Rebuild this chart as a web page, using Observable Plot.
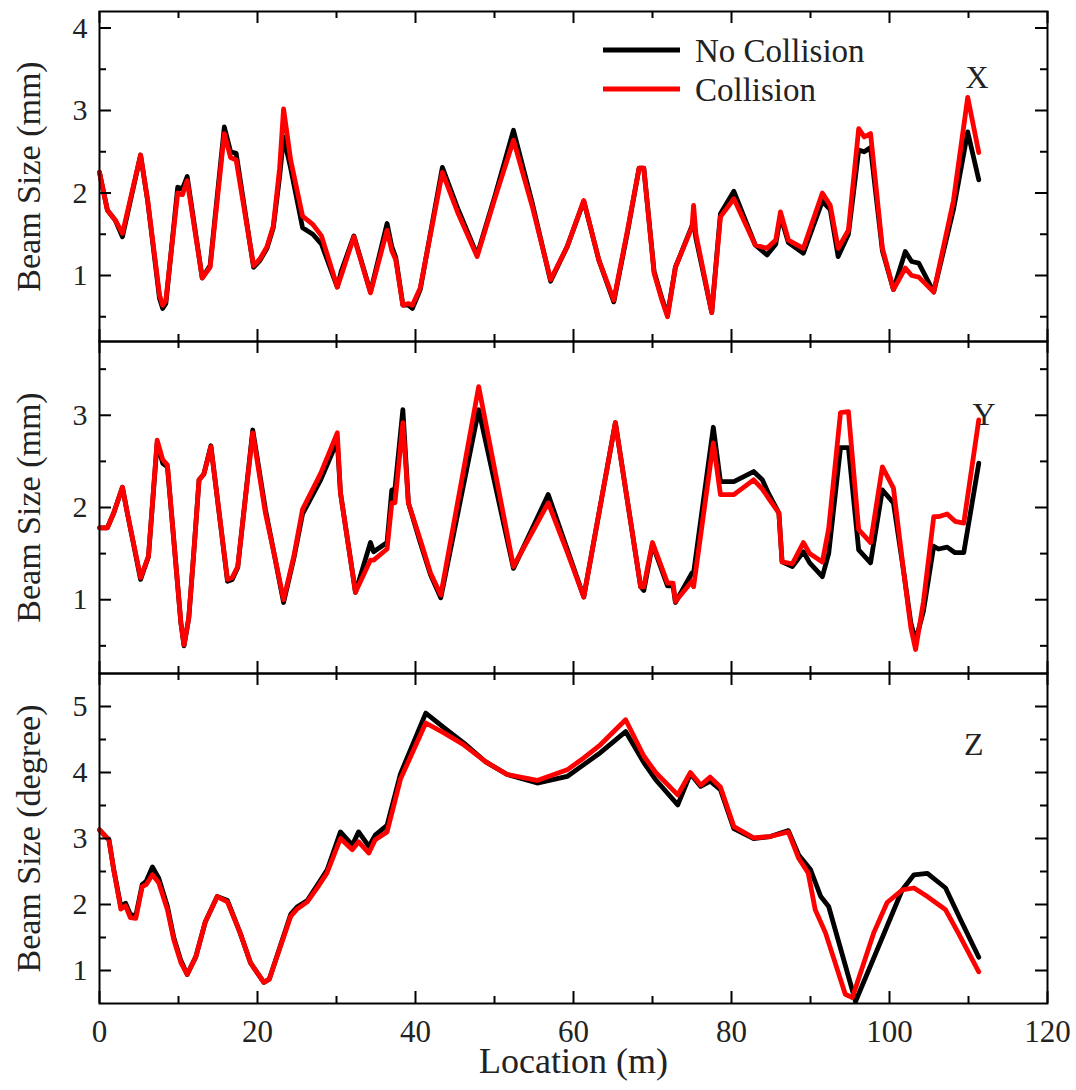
<!DOCTYPE html>
<html>
<head>
<meta charset="utf-8">
<script src="https://cdn.jsdelivr.net/npm/d3@7"></script>
<script src="https://cdn.jsdelivr.net/npm/@observablehq/plot@0.6"></script>
<style>
  body { margin: 0; background: #fff; }
  #chart { position: relative; width: 1076px; height: 1090px; font-family: "Liberation Serif", "Times New Roman", serif; }
  #chart > svg { position: absolute; left: 0; overflow: visible; }
</style>
</head>
<body>
<div id="chart"></div>
<script>
// ---------- Data ----------
const seriesNames = ["No Collision", "Collision"];
const seriesColors = ["#000000", "#ff0000"];
const xTickLabels = [0, 20, 40, 60, 80, 100, 120];

// Panel X (Beam Size, mm)
const locX = [0, 1.0, 2.0, 2.9, 5.2, 6.1, 7.6, 8.0, 8.4, 9.9, 10.5, 11.1, 13.0, 14.0, 15.8, 16.6, 17.3, 19.5, 20.3, 21.2, 22.0, 22.8, 23.3, 24.2, 25.7, 27.0, 28.1, 30.1, 30.6, 32.2, 34.3, 36.4, 37.0, 37.5, 38.4, 39.1, 39.6, 40.6, 43.4, 45.4, 47.8, 50.1, 52.4, 54.8, 57.1, 59.2, 61.3, 63.2, 65.1, 66.8, 68.3, 68.9, 70.2, 71.2, 71.9, 72.9, 75.0, 75.2, 75.5, 77.5, 78.6, 80.3, 83.0, 84.5, 85.6, 86.2, 87.2, 89.1, 91.5, 92.5, 93.5, 94.8, 96.1, 96.8, 97.6, 99.1, 100.5, 102.0, 102.8, 103.7, 105.6, 108.1, 109.9, 111.3];
const xNoCollision = [2.25, 1.79, 1.67, 1.47, 2.46, 1.9, 0.72, 0.6, 0.66, 2.07, 2.05, 2.2, 0.97, 1.12, 2.8, 2.5, 2.48, 1.1, 1.18, 1.33, 1.58, 2.2, 2.68, 2.3, 1.58, 1.5, 1.38, 0.86, 1.05, 1.48, 0.8, 1.63, 1.35, 1.22, 0.64, 0.64, 0.6, 0.83, 2.31, 1.8, 1.25, 1.98, 2.76, 1.87, 0.93, 1.35, 1.9, 1.19, 0.68, 1.51, 2.3, 2.3, 1.05, 0.72, 0.52, 1.1, 1.6, 1.65, 1.45, 0.55, 1.75, 2.02, 1.37, 1.25, 1.38, 1.72, 1.4, 1.27, 1.9, 1.8, 1.23, 1.5, 2.52, 2.5, 2.55, 1.3, 0.83, 1.29, 1.17, 1.15, 0.8, 1.8, 2.74, 2.16];
const xCollision   = [2.25, 1.79, 1.67, 1.51, 2.46, 1.91, 0.76, 0.64, 0.7, 2.0, 1.98, 2.15, 0.97, 1.1, 2.72, 2.43, 2.4, 1.12, 1.2, 1.35, 1.6, 2.3, 3.02, 2.4, 1.72, 1.62, 1.48, 0.86, 1.0, 1.47, 0.79, 1.55, 1.3, 1.19, 0.64, 0.66, 0.64, 0.85, 2.25, 1.75, 1.23, 1.95, 2.64, 1.83, 0.95, 1.35, 1.91, 1.19, 0.7, 1.53, 2.3, 2.3, 1.03, 0.7, 0.5, 1.1, 1.59, 1.85, 1.5, 0.55, 1.71, 1.93, 1.37, 1.33, 1.43, 1.77, 1.43, 1.33, 2.0, 1.85, 1.33, 1.55, 2.78, 2.68, 2.72, 1.33, 0.83, 1.09, 1.0, 0.98, 0.8, 1.91, 3.16, 2.49];

// Panel Y (Beam Size, mm)
const locY = [0, 1.0, 1.8, 2.9, 3.5, 5.2, 6.2, 7.3, 8.0, 8.6, 9.4, 10.3, 10.7, 11.3, 11.9, 12.6, 13.2, 14.1, 16.2, 16.8, 17.5, 19.4, 21.0, 22.1, 23.3, 24.6, 25.7, 28.0, 30.1, 30.5, 32.4, 34.3, 34.7, 36.4, 37.0, 37.4, 38.4, 39.1, 40.6, 41.9, 43.2, 48.0, 52.4, 56.8, 59.2, 61.3, 65.3, 68.5, 68.9, 70.0, 71.9, 72.6, 72.9, 75.0, 75.2, 77.7, 78.6, 80.3, 82.8, 83.9, 84.7, 86.0, 86.4, 87.7, 89.1, 89.9, 91.5, 92.3, 93.8, 94.8, 96.1, 97.6, 99.1, 100.5, 101.8, 102.7, 103.3, 104.3, 105.6, 106.2, 107.3, 108.3, 109.4, 111.3];
const yNoCollision = [1.78, 1.78, 1.94, 2.22, 1.95, 1.22, 1.47, 2.7, 2.48, 2.44, 1.65, 0.75, 0.5, 0.8, 1.47, 2.3, 2.36, 2.67, 1.2, 1.22, 1.35, 2.84, 1.98, 1.5, 0.97, 1.45, 1.93, 2.3, 2.72, 2.16, 1.08, 1.62, 1.52, 1.62, 2.19, 2.2, 3.06, 2.05, 1.62, 1.27, 1.02, 3.06, 1.34, 2.14, 1.55, 1.03, 2.92, 1.14, 1.1, 1.6, 1.15, 1.15, 0.97, 1.29, 1.29, 2.87, 2.28, 2.28, 2.39, 2.3, 2.15, 1.94, 1.41, 1.36, 1.52, 1.4, 1.25, 1.5, 2.65, 2.65, 1.54, 1.4, 2.19, 2.05, 1.3, 0.75, 0.55, 0.88, 1.58, 1.55, 1.57, 1.51, 1.51, 2.48];
const yCollision   = [1.78, 1.78, 1.94, 2.22, 1.95, 1.24, 1.47, 2.73, 2.52, 2.46, 1.65, 0.75, 0.51, 0.8, 1.47, 2.3, 2.36, 2.66, 1.22, 1.24, 1.36, 2.81, 1.94, 1.5, 1.0, 1.47, 1.98, 2.37, 2.81, 2.16, 1.08, 1.43, 1.43, 1.55, 2.05, 2.05, 2.92, 2.05, 1.65, 1.29, 1.05, 3.31, 1.36, 2.05, 1.52, 1.03, 2.92, 1.14, 1.14, 1.62, 1.18, 1.18, 0.98, 1.2, 1.14, 2.7, 2.14, 2.14, 2.3, 2.2, 2.1, 1.94, 1.41, 1.39, 1.62, 1.5, 1.41, 1.77, 3.03, 3.04, 1.76, 1.62, 2.44, 2.21, 1.3, 0.7, 0.46, 0.98, 1.9, 1.9, 1.93, 1.85, 1.83, 2.95];

// Panel Z (Beam Size, degree)
const locZNoCollision = [0, 1.2, 1.8, 2.7, 3.3, 3.9, 4.6, 5.4, 5.9, 6.7, 7.5, 8.6, 9.4, 10.3, 11.1, 12.2, 13.4, 14.9, 16.2, 17.8, 19.1, 20.8, 21.5, 24.2, 25.0, 26.3, 27.6, 28.8, 30.5, 32.0, 32.8, 34.1, 34.9, 36.4, 38.1, 41.3, 43.6, 46.1, 48.9, 51.6, 55.4, 59.2, 61.3, 63.4, 66.6, 68.9, 70.4, 73.2, 74.8, 76.1, 77.3, 78.6, 80.3, 82.8, 84.9, 87.2, 88.5, 90.0, 91.3, 92.3, 95.7, 99.2, 101.6, 103.1, 104.8, 107.1, 109.0, 111.3];
const zNoCollision = [3.13, 2.98, 2.53, 1.97, 2.02, 1.85, 1.83, 2.3, 2.35, 2.57, 2.4, 1.97, 1.5, 1.15, 0.94, 1.21, 1.74, 2.12, 2.06, 1.57, 1.12, 0.82, 0.87, 1.85, 1.96, 2.06, 2.3, 2.52, 3.1, 2.9, 3.1, 2.88, 3.05, 3.2, 3.98, 4.9, 4.68, 4.45, 4.16, 3.97, 3.84, 3.94, 4.12, 4.3, 4.62, 4.15, 3.89, 3.51, 3.98, 3.79, 3.87, 3.74, 3.15, 3.0, 3.03, 3.12, 2.75, 2.53, 2.12, 1.97, 0.53, 1.53, 2.22, 2.45, 2.47, 2.25, 1.77, 1.2];
const locZCollision = [0, 1.2, 1.8, 2.7, 3.3, 3.9, 4.6, 5.4, 5.9, 6.7, 7.5, 8.6, 9.4, 10.3, 11.1, 12.2, 13.4, 14.9, 16.2, 17.8, 19.1, 20.8, 21.5, 24.2, 25.0, 26.3, 27.6, 28.8, 30.5, 32.0, 32.8, 34.1, 34.9, 36.4, 38.1, 41.3, 43.6, 46.1, 48.9, 51.6, 55.4, 59.2, 61.3, 63.4, 66.6, 68.9, 70.4, 73.2, 74.8, 76.1, 77.3, 78.6, 80.3, 82.8, 84.9, 87.2, 88.5, 89.7, 90.6, 91.9, 94.4, 95.3, 98.0, 99.7, 101.6, 103.1, 104.8, 107.1, 108.7, 111.3];
const zCollision   = [3.13, 2.98, 2.53, 1.93, 1.98, 1.8, 1.79, 2.27, 2.3, 2.45, 2.33, 1.92, 1.47, 1.12, 0.94, 1.21, 1.74, 2.12, 2.04, 1.57, 1.12, 0.82, 0.87, 1.82, 1.93, 2.04, 2.26, 2.48, 3.0, 2.83, 2.95, 2.78, 2.98, 3.1, 3.9, 4.75, 4.6, 4.42, 4.16, 3.97, 3.88, 4.04, 4.22, 4.42, 4.8, 4.25, 4.0, 3.66, 4.0, 3.81, 3.93, 3.78, 3.18, 3.01, 3.03, 3.1, 2.7, 2.48, 1.92, 1.57, 0.64, 0.59, 1.57, 2.03, 2.22, 2.25, 2.12, 1.92, 1.57, 0.98];

// ---------- Build ----------
const FONT = '"Liberation Serif", "Times New Roman", serif';
const W = 1076, ML = 99, MR = 29, innerW = W - ML - MR;
const xMajor = [0, 20, 40, 60, 80, 100, 120];
const xMinor = [10, 30, 50, 70, 90, 110];

function toRows(locs, vals) { return locs.map((l, i) => ({loc: l, v: vals[i]})); }

function tickMarks(innerH, yMajor, yMinor) {
  const s = {stroke: "black", strokeWidth: 2};
  const out = [];
  for (const [xs, len] of [[xMajor, 12], [xMinor, 7]]) {
    out.push(Plot.ruleX(xs, {x: d => d, insetTop: innerH - len, ...s}));
    out.push(Plot.ruleX(xs, {x: d => d, insetBottom: innerH - len, ...s}));
  }
  for (const [ys, len] of [[yMajor, 12], [yMinor, 7]]) {
    out.push(Plot.ruleY(ys, {y: d => d, insetRight: innerW - len, ...s}));
    out.push(Plot.ruleY(ys, {y: d => d, insetLeft: innerW - len, ...s}));
  }
  return out;
}

function panel({top, height, mt, mb, yDomain, yMajor, yMinor, ylabel, letter, letterDx, letterDy, noLoc, noVals, colLoc, colVals, bottomAxis}) {
  const innerH = height - mt - mb;
  const marks = [
    Plot.line(toRows(noLoc, noVals), {x: "loc", y: "v", stroke: seriesColors[0], strokeWidth: 4.8, strokeLinejoin: "round", strokeLinecap: "round"}),
    Plot.line(toRows(colLoc, colVals), {x: "loc", y: "v", stroke: seriesColors[1], strokeWidth: 4.8, strokeLinejoin: "round", strokeLinecap: "round"}),
    ...tickMarks(innerH, yMajor, yMinor),
    Plot.frame({stroke: "black", strokeWidth: 2}),
    Plot.axisY(yMajor, {anchor: "left", tickSize: 0, tickPadding: 12, fontSize: 30, tickFormat: d => String(d), label: null, fill: "#222", fontFamily: FONT}),
    Plot.text([ylabel], {frameAnchor: "left", dx: -70, rotate: -90, textAnchor: "middle", lineAnchor: "middle", fontSize: 34, fill: "#222", fontFamily: FONT}),
    Plot.text([letter], {frameAnchor: "top-right", dx: letterDx, dy: letterDy, textAnchor: "end", fontSize: 32, fill: "#222", fontFamily: FONT})
  ];
  if (bottomAxis) {
    marks.push(Plot.axisX(xTickLabels, {anchor: "bottom", tickSize: 0, tickPadding: 16, fontSize: 31, tickFormat: d => String(d), label: null, fill: "#222", fontFamily: FONT}));
    marks.push(Plot.text(["Location (m)"], {frameAnchor: "bottom", dy: 69, fontSize: 36, fill: "#222", fontFamily: FONT}));
  }
  const svg = Plot.plot({
    width: W, height,
    marginLeft: ML, marginRight: MR, marginTop: mt, marginBottom: mb,
    style: {fontFamily: FONT, background: "transparent", overflow: "visible"},
    x: {domain: [0, 120], ...(bottomAxis ? {} : {axis: null})},
    y: {domain: yDomain},
    marks
  });
  svg.style.top = top + "px";
  return svg;
}

const chart = document.getElementById("chart");
chart.appendChild(panel({top: 0, height: 342, mt: 11, mb: 1, yDomain: [0.2, 4.2], yMajor: [1, 2, 3, 4], yMinor: [0.5, 1.5, 2.5, 3.5],
  ylabel: "Beam Size (mm)", letter: "X", letterDx: -59, letterDy: 54, noLoc: locX, noVals: xNoCollision, colLoc: locX, colVals: xCollision}));
chart.appendChild(panel({top: 340, height: 334, mt: 1, mb: 1, yDomain: [0.2, 3.8], yMajor: [1, 2, 3], yMinor: [0.5, 1.5, 2.5, 3.5],
  ylabel: "Beam Size (mm)", letter: "Y", letterDx: -52, letterDy: 61, noLoc: locY, noVals: yNoCollision, colLoc: locY, colVals: yCollision}));
chart.appendChild(panel({top: 672, height: 418, mt: 1, mb: 87, yDomain: [0.5, 5.5], yMajor: [1, 2, 3, 4, 5], yMinor: [1.5, 2.5, 3.5, 4.5],
  ylabel: "Beam Size (degree)", letter: "Z", letterDx: -64, letterDy: 59, noLoc: locZNoCollision, noVals: zNoCollision, colLoc: locZCollision, colVals: zCollision, bottomAxis: true}));

// Legend (inside the top panel)
const leg = d3.select(chart).append("svg")
  .attr("width", 300).attr("height", 90)
  .style("left", "590px").style("top", "25px").style("position", "absolute");
seriesNames.forEach((name, i) => {
  const cy = [25, 64][i];
  leg.append("line").attr("x1", 13).attr("x2", 90).attr("y1", cy).attr("y2", cy)
    .attr("stroke", seriesColors[i]).attr("stroke-width", 5);
  leg.append("text").attr("x", 105).attr("y", cy + 12).text(name)
    .attr("font-size", 33).attr("fill", "#222")
    .style("font-family", FONT);
});
</script>
</body>
</html>
